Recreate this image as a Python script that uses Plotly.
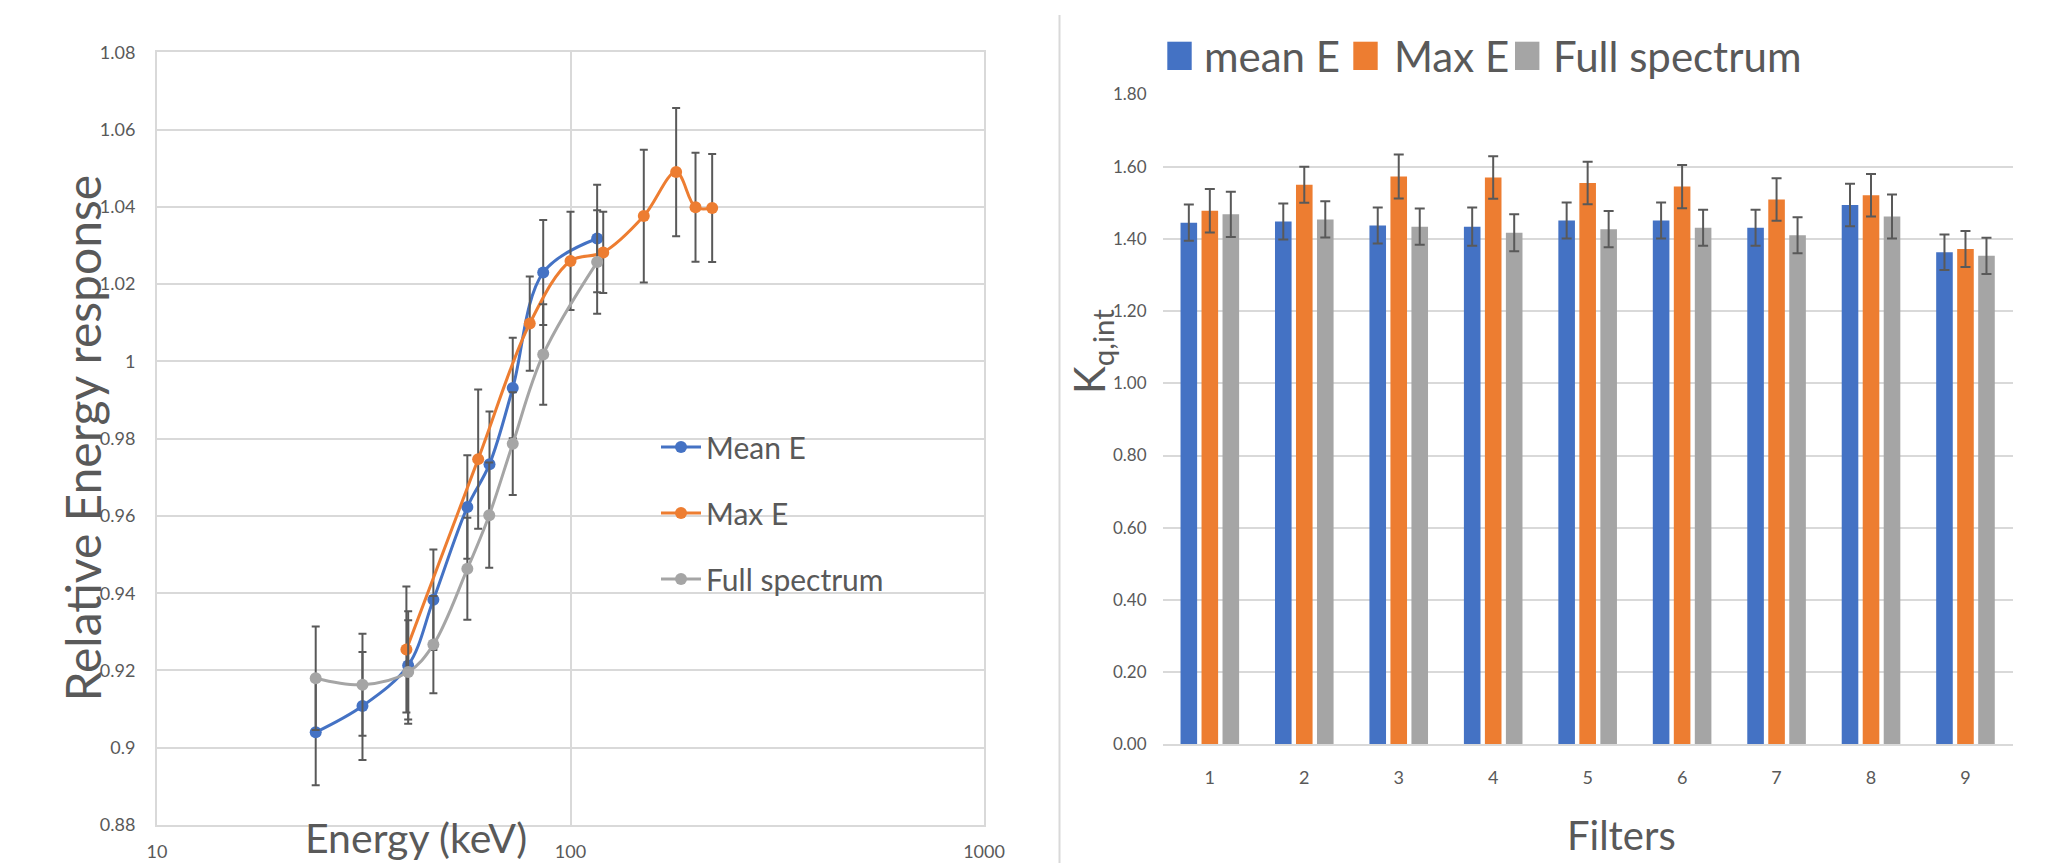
import plotly.graph_objects as go

# ---------------- Left chart data ----------------
mean_energy = [24.2, 31.4, 40.5, 46.6, 56.3, 63.7, 72.5, 85.9, 116.0]
mean_resp = [0.904, 0.9108, 0.9213, 0.9383, 0.9623, 0.9734, 0.9931, 1.023, 1.0318]
mean_err = [0.0137, 0.014, 0.014, 0.013, 0.0134, 0.0136, 0.013, 0.0136, 0.0139]

max_energy = [40.1, 59.8, 79.7, 100.0, 120.0, 150.4, 180.1, 200.6, 220.1]
max_resp = [0.9254, 0.9747, 1.0098, 1.026, 1.0282, 1.0376, 1.049, 1.0399, 1.0397]
max_err = [0.0163, 0.018, 0.0122, 0.0127, 0.0105, 0.0172, 0.0166, 0.0141, 0.014]

full_energy = [24.2, 31.4, 40.5, 46.6, 56.3, 63.6, 72.5, 85.9, 116.0]
full_resp = [0.918, 0.9163, 0.9196, 0.9267, 0.9463, 0.9602, 0.9787, 1.0018, 1.0257]
full_err = [0.0134, 0.0132, 0.0134, 0.0126, 0.0132, 0.0136, 0.0133, 0.013, 0.0134]

left_yticks = [0.88, 0.90, 0.92, 0.94, 0.96, 0.98, 1.00, 1.02, 1.04, 1.06, 1.08]
left_yticklabels = ["0.88", "0.9", "0.92", "0.94", "0.96", "0.98", "1", "1.02", "1.04", "1.06", "1.08"]
left_xticks = [10, 100, 1000]

# ---------------- Right chart data ----------------
filters = ["1", "2", "3", "4", "5", "6", "7", "8", "9"]
kq_mean = [1.445, 1.448, 1.437, 1.434, 1.451, 1.451, 1.431, 1.494, 1.363]
kq_max = [1.478, 1.550, 1.573, 1.570, 1.555, 1.545, 1.509, 1.521, 1.372]
kq_full = [1.468, 1.454, 1.434, 1.417, 1.427, 1.431, 1.410, 1.462, 1.353]
kq_mean_err = [0.050, 0.050, 0.050, 0.053, 0.050, 0.050, 0.050, 0.059, 0.049]
kq_max_err = [0.060, 0.050, 0.061, 0.059, 0.059, 0.060, 0.059, 0.059, 0.050]
kq_full_err = [0.0625, 0.050, 0.050, 0.051, 0.050, 0.050, 0.050, 0.061, 0.050]
right_yticks = [0.0, 0.2, 0.4, 0.6, 0.8, 1.0, 1.2, 1.4, 1.6, 1.8]

BLUE, ORANGE, GRAY = "#4472C4", "#ED7D31", "#A5A5A5"
TXT = "#595959"
GRID = "#D9D9D9"
ERR = "#595959"
FONT = "Lato"

W, H = 2066, 863


def px_x(v):
    return v / W


def px_y(v):
    return 1 - v / H


fig = go.Figure()

line_series = [
    ("Mean E", mean_energy, mean_resp, mean_err, BLUE, "g1"),
    ("Max E", max_energy, max_resp, max_err, ORANGE, "g2"),
    ("Full spectrum", full_energy, full_resp, full_err, GRAY, "g3"),
]
for name, xs, ys, es, col, grp in line_series:
    fig.add_trace(go.Scatter(
        x=xs, y=ys, name=name, mode="lines+markers",
        line=dict(color=col, width=3, shape="spline", smoothing=1.0),
        marker=dict(color=col, size=12),
        error_y=dict(type="data", array=es, visible=True, color=ERR, thickness=2, width=4),
        xaxis="x", yaxis="y", legend="legend", legendgroup=grp,
    ))

bar_series = [
    ("mean E", kq_mean, kq_mean_err, BLUE),
    ("Max E", kq_max, kq_max_err, ORANGE),
    ("Full spectrum", kq_full, kq_full_err, GRAY),
]
for name, ys, es, col in bar_series:
    fig.add_trace(go.Bar(
        x=filters, y=ys, name=name, marker=dict(color=col, line=dict(width=0)),
        error_y=dict(type="data", array=es, visible=True, color=ERR, thickness=2, width=5),
        xaxis="x2", yaxis="y2", showlegend=False,
    ))

# Right legend (drawn as layout decorations)
legend_items = [
    ("mean E", BLUE, 1167.3, 1201.7),
    ("Max E", ORANGE, 1353.3, 1391.7),
    ("Full spectrum", GRAY, 1515.0, 1551.4),
]
shapes = []
annotations = []
for label, col, sx, tx in legend_items:
    shapes.append(dict(type="rect", xref="paper", yref="paper",
                       x0=px_x(sx), x1=px_x(sx + 24.4), y0=px_y(70), y1=px_y(41.7),
                       fillcolor=col, line=dict(width=0)))
    annotations.append(dict(text=label, xref="paper", yref="paper", x=px_x(tx), y=px_y(56),
                            xanchor="left", yanchor="middle", showarrow=False,
                            font=dict(family=FONT, size=42, color=TXT)))

# divider
shapes.append(dict(type="line", xref="paper", yref="paper", x0=px_x(1059.5), x1=px_x(1059.5),
                   y0=0, y1=px_y(15), line=dict(color=GRID, width=2)))

# Titles
annotations += [
    dict(text="Relative Energy response", xref="paper", yref="paper", x=px_x(82), y=px_y(438.5),
         textangle=-90, xanchor="center", yanchor="middle", showarrow=False,
         font=dict(family=FONT, size=48, color=TXT)),
    dict(text="Energy (keV)", xref="paper", yref="paper", x=px_x(416), y=px_y(837),
         xanchor="center", yanchor="middle", showarrow=False,
         font=dict(family=FONT, size=41, color=TXT)),
    dict(text="K<sub>q,int</sub>", xref="paper", yref="paper", x=px_x(1092), y=px_y(352),
         textangle=-90, xanchor="center", yanchor="middle", showarrow=False,
         font=dict(family=FONT, size=42, color=TXT)),
    dict(text="Filters", xref="paper", yref="paper", x=px_x(1621), y=px_y(835),
         xanchor="center", yanchor="middle", showarrow=False,
         font=dict(family=FONT, size=40, color=TXT)),
]

fig.update_layout(
    width=W, height=H,
    margin=dict(l=0, r=0, t=0, b=0, autoexpand=False),
    paper_bgcolor="white", plot_bgcolor="white",
    font=dict(family=FONT, color=TXT),
    barmode="group", bargap=0.333, bargroupgap=0.21,
    shapes=shapes, annotations=annotations,
    xaxis=dict(
        type="log", range=[1, 3], domain=[px_x(157), px_x(984)],
        tickvals=left_xticks, ticktext=[str(v) for v in left_xticks],
        showgrid=True, gridcolor=GRID, gridwidth=2,
        showline=True, linecolor=GRID, linewidth=2, mirror=True,
        ticks="", ticklabelstandoff=9, tickfont=dict(family=FONT, size=18, color=TXT),
        zeroline=False, anchor="y", automargin=False,
    ),
    yaxis=dict(
        range=[0.88, 1.08], domain=[px_y(825), px_y(52.3)],
        tickvals=left_yticks, ticktext=left_yticklabels,
        showgrid=True, gridcolor=GRID, gridwidth=2,
        showline=True, linecolor=GRID, linewidth=2, mirror=True,
        ticks="", ticklabelstandoff=16, tickfont=dict(family=FONT, size=18, color=TXT),
        zeroline=False, anchor="x", automargin=False,
    ),
    xaxis2=dict(
        type="category", domain=[px_x(1162.6), px_x(2012.7)],
        showgrid=False, showline=True, linecolor=GRID, linewidth=2,
        ticks="", ticklabelstandoff=16, tickfont=dict(family=FONT, size=18, color=TXT),
        anchor="y2", automargin=False,
    ),
    yaxis2=dict(
        range=[0, 1.8], domain=[px_y(744.3), px_y(94.5)],
        tickvals=right_yticks, tickformat=".2f",
        showgrid=True, gridcolor=GRID, gridwidth=2, showline=False,
        ticks="", ticklabelstandoff=15, tickfont=dict(family=FONT, size=17, color=TXT),
        zeroline=False, anchor="x2", automargin=False,
    ),
    legend=dict(
        x=px_x(656), y=px_y(421), xanchor="left", yanchor="top",
        bgcolor="rgba(0,0,0,0)", font=dict(family=FONT, size=30, color=TXT),
        tracegroupgap=24, itemwidth=40,
    ),
)

fig.write_html("out.html", config={"displayModeBar": False},
               post_script="document.body.style.margin='0';document.body.style.overflow='hidden';")
